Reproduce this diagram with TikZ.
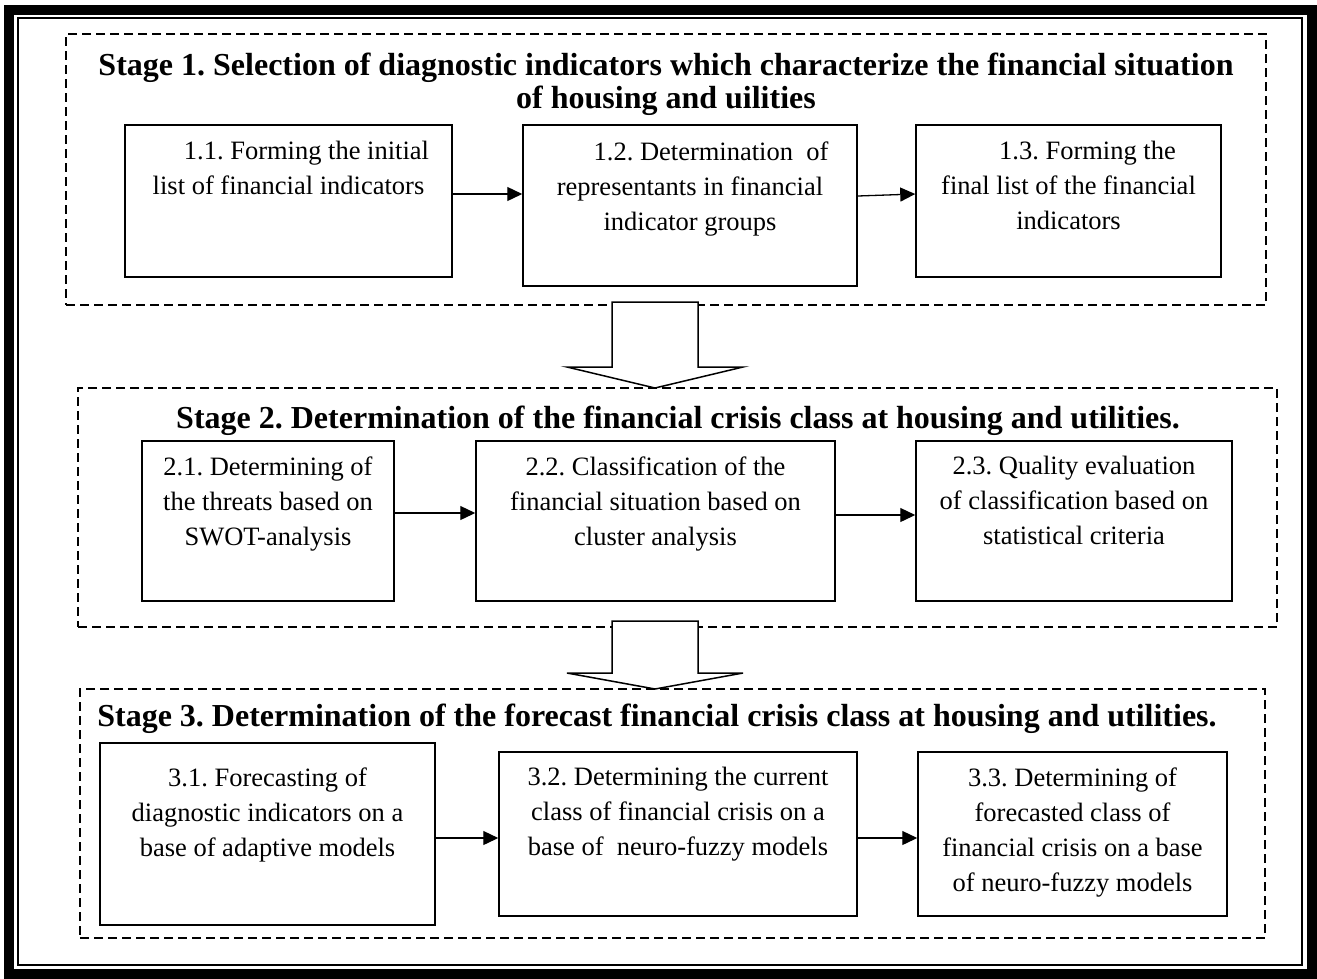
\documentclass[tikz,border=0pt]{standalone}
\usepackage{fontspec}
\setmainfont{Liberation Serif}
\usetikzlibrary{arrows.meta,calc}
\frenchspacing
\begin{document}
\begin{tikzpicture}[x=1pt,y=-1pt,
  stage/.style={draw, line width=2.4pt, dash pattern=on 9pt off 5pt, rectangle, inner sep=0pt},
  box/.style={draw, line width=1.5pt, fill=white, rectangle, inner sep=0pt},
  body/.style={font=\fontsize{26.5}{35}\selectfont, align=center, inner sep=0pt, anchor=north},
  title/.style={font=\bfseries\fontsize{32}{33}\selectfont, align=center, inner sep=0pt},
  arr/.style={line width=1.3pt, -{Triangle[length=15pt,width=14pt]}},
  bigarrow/.style={draw, line width=1.5pt, fill=white, line join=miter}]
\useasboundingbox (0,0) rectangle (1317,978);
% frame
\draw[line width=10pt] (9,10) rectangle (1312,974);
\draw[line width=2pt] (18,18) rectangle (1302,965);

% ---------- Stage 1
\node[stage, minimum width=1200pt, minimum height=271pt] (s1) at (666,169.5) {};
\node[title, anchor=north] (T1) at (666,53) {Stage 1. Selection of diagnostic indicators which characterize the financial situation\\of housing and uilities};
\node[box, minimum width=327pt, minimum height=152pt] (b11) at (288.5,201) {};
\node[box, minimum width=334pt, minimum height=161pt] (b12) at (690,205.5) {};
\node[box, minimum width=305pt, minimum height=152pt] (b13) at (1068.5,201) {};
\node[body] (t11) at ([yshift=-17pt]b11.north) {\hspace*{36pt}1.1. Forming the initial\\list of financial indicators};
\node[body] (t12) at ([yshift=-17pt]b12.north) {\hspace*{42pt}1.2. Determination\ \ of\\representants in financial\\indicator groups};
\node[body] (t13) at ([yshift=-17pt]b13.north) {\hspace*{38pt}1.3. Forming the\\final list of the financial\\indicators};
\draw[arr] (b11.east |- 0,194) -- (b12.west |- 0,194);
\draw[arr] (b12.east |- 0,196) -- (b13.west |- 0,194);

\draw[bigarrow] (612,302) -- (698,302) -- (698,367) -- (743,367) -- (655,388) -- (567,367) -- (612,367) -- cycle;

% ---------- Stage 2
\node[stage, minimum width=1199pt, minimum height=239pt] (s2) at (677.5,507.5) {};
\node[title, anchor=base] (T2) at (678,428) {Stage 2. Determination of the financial crisis class at housing and utilities.};
\node[box, minimum width=252pt, minimum height=160pt] (b21) at (268,521) {};
\node[box, minimum width=359pt, minimum height=160pt] (b22) at (655.5,521) {};
\node[box, minimum width=316pt, minimum height=160pt] (b23) at (1074,521) {};
\node[body] (t21) at ([yshift=-16pt]b21.north) {2.1. Determining of\\the threats based on\\SWOT-analysis};
\node[body] (t22) at ([yshift=-16pt]b22.north) {2.2. Classification of the\\financial situation based on\\cluster analysis};
\node[body] (t23) at ([yshift=-16pt]b23.north) {2.3. Quality evaluation\\of classification based on\\statistical criteria};
\draw[arr] (b21.east |- 0,513) -- (b22.west |- 0,513);
\draw[arr] (b22.east |- 0,515) -- (b23.west |- 0,515);

\draw[bigarrow] (612,621) -- (698,621) -- (698,673) -- (743,673) -- (655,689) -- (567,673) -- (612,673) -- cycle;

% ---------- Stage 3
\node[stage, minimum width=1185pt, minimum height=249pt] (s3) at (672.5,813.5) {};
\node[title, anchor=base] (T3) at (657,726) {Stage 3. Determination of the forecast financial crisis class at housing and utilities.};
\node[box, minimum width=335pt, minimum height=182pt] (b31) at (267.5,834) {};
\node[box, minimum width=358pt, minimum height=164pt] (b32) at (678,834) {};
\node[box, minimum width=309pt, minimum height=164pt] (b33) at (1072.5,834) {};
\node[body] (t31) at ([yshift=-25pt]b31.north) {3.1. Forecasting of\\diagnostic indicators on a\\base of adaptive models};
\node[body] (t32) at ([yshift=-16pt]b32.north) {3.2. Determining the current\\class of financial crisis on a\\base of\ \ neuro-fuzzy models};
\node[body] (t33) at ([yshift=-16pt]b33.north) {3.3. Determining of\\forecasted class of\\financial crisis on a base\\of neuro-fuzzy models};
\draw[arr] (b31.east |- 0,838) -- (b32.west |- 0,838);
\draw[arr] (b32.east |- 0,838) -- (b33.west |- 0,838);
\end{tikzpicture}
\end{document}
